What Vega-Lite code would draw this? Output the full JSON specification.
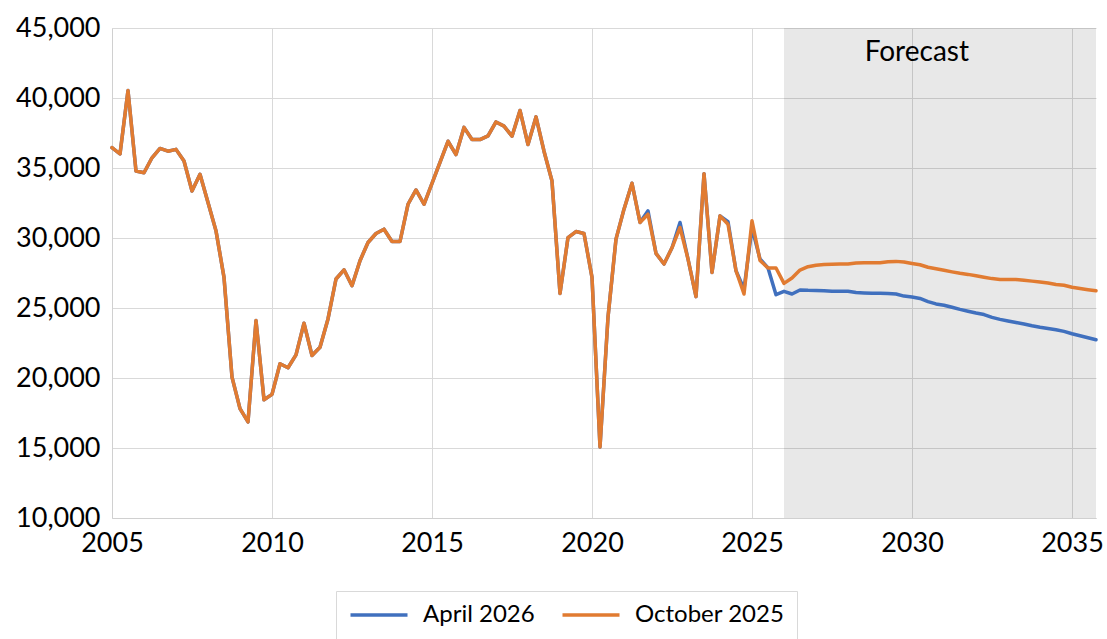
{
  "$schema": "https://vega.github.io/schema/vega-lite/v6.json",
  "width": 984,
  "height": 490,
  "autosize": "none",
  "padding": {"left": 112, "top": 28, "right": 11, "bottom": 121},
  "background": "#ffffff",
  "config": {
    "view": {"stroke": null},
    "font": "Lato",
    "axis": {
      "labelFont": "Lato",
      "labelFontSize": 27,
      "labelColor": "#000000",
      "gridColor": "#d9d9d9",
      "gridWidth": 1,
      "domainColor": "#d0d0d0",
      "domainWidth": 1,
      "tickSize": 0,
      "labelFlush": false,
      "title": null
    },
    "legend": {
      "labelFont": "Lato",
      "labelFontSize": 24,
      "labelColor": "#000000"
    }
  },
  "datasets": {
    "quarters": [
      {"t": 2005.0, "April 2026": 36450, "October 2025": 36450},
      {"t": 2005.25, "April 2026": 36000, "October 2025": 36000},
      {"t": 2005.5, "April 2026": 40530, "October 2025": 40530},
      {"t": 2005.75, "April 2026": 34780, "October 2025": 34780},
      {"t": 2006.0, "April 2026": 34660, "October 2025": 34660},
      {"t": 2006.25, "April 2026": 35730, "October 2025": 35730},
      {"t": 2006.5, "April 2026": 36400, "October 2025": 36400},
      {"t": 2006.75, "April 2026": 36200, "October 2025": 36200},
      {"t": 2007.0, "April 2026": 36330, "October 2025": 36330},
      {"t": 2007.25, "April 2026": 35500, "October 2025": 35500},
      {"t": 2007.5, "April 2026": 33360, "October 2025": 33360},
      {"t": 2007.75, "April 2026": 34550, "October 2025": 34550},
      {"t": 2008.0, "April 2026": 32530, "October 2025": 32530},
      {"t": 2008.25, "April 2026": 30510, "October 2025": 30510},
      {"t": 2008.5, "April 2026": 27190, "October 2025": 27190},
      {"t": 2008.75, "April 2026": 20060, "October 2025": 20060},
      {"t": 2009.0, "April 2026": 17810, "October 2025": 17810},
      {"t": 2009.25, "April 2026": 16860, "October 2025": 16860},
      {"t": 2009.5, "April 2026": 24100, "October 2025": 24100},
      {"t": 2009.75, "April 2026": 18450, "October 2025": 18450},
      {"t": 2010.0, "April 2026": 18830, "October 2025": 18830},
      {"t": 2010.25, "April 2026": 21020, "October 2025": 21020},
      {"t": 2010.5, "April 2026": 20730, "October 2025": 20730},
      {"t": 2010.75, "April 2026": 21650, "October 2025": 21650},
      {"t": 2011.0, "April 2026": 23910, "October 2025": 23910},
      {"t": 2011.25, "April 2026": 21610, "October 2025": 21610},
      {"t": 2011.5, "April 2026": 22200, "October 2025": 22200},
      {"t": 2011.75, "April 2026": 24220, "October 2025": 24220},
      {"t": 2012.0, "April 2026": 27070, "October 2025": 27070},
      {"t": 2012.25, "April 2026": 27730, "October 2025": 27730},
      {"t": 2012.5, "April 2026": 26590, "October 2025": 26590},
      {"t": 2012.75, "April 2026": 28380, "October 2025": 28380},
      {"t": 2013.0, "April 2026": 29680, "October 2025": 29680},
      {"t": 2013.25, "April 2026": 30320, "October 2025": 30320},
      {"t": 2013.5, "April 2026": 30630, "October 2025": 30630},
      {"t": 2013.75, "April 2026": 29750, "October 2025": 29750},
      {"t": 2014.0, "April 2026": 29750, "October 2025": 29750},
      {"t": 2014.25, "April 2026": 32410, "October 2025": 32410},
      {"t": 2014.5, "April 2026": 33430, "October 2025": 33430},
      {"t": 2014.75, "April 2026": 32410, "October 2025": 32410},
      {"t": 2015.0, "April 2026": 33900, "October 2025": 33900},
      {"t": 2015.25, "April 2026": 35400, "October 2025": 35400},
      {"t": 2015.5, "April 2026": 36910, "October 2025": 36910},
      {"t": 2015.75, "April 2026": 35960, "October 2025": 35960},
      {"t": 2016.0, "April 2026": 37900, "October 2025": 37900},
      {"t": 2016.25, "April 2026": 37030, "October 2025": 37030},
      {"t": 2016.5, "April 2026": 37030, "October 2025": 37030},
      {"t": 2016.75, "April 2026": 37300, "October 2025": 37300},
      {"t": 2017.0, "April 2026": 38290, "October 2025": 38290},
      {"t": 2017.25, "April 2026": 37990, "October 2025": 37990},
      {"t": 2017.5, "April 2026": 37270, "October 2025": 37270},
      {"t": 2017.75, "April 2026": 39110, "October 2025": 39110},
      {"t": 2018.0, "April 2026": 36680, "October 2025": 36680},
      {"t": 2018.25, "April 2026": 38650, "October 2025": 38650},
      {"t": 2018.5, "April 2026": 36200, "October 2025": 36200},
      {"t": 2018.75, "April 2026": 34070, "October 2025": 34070},
      {"t": 2019.0, "April 2026": 26040, "October 2025": 26040},
      {"t": 2019.25, "April 2026": 30030, "October 2025": 30030},
      {"t": 2019.5, "April 2026": 30460, "October 2025": 30460},
      {"t": 2019.75, "April 2026": 30320, "October 2025": 30320},
      {"t": 2020.0, "April 2026": 27190, "October 2025": 27190},
      {"t": 2020.25, "April 2026": 15080, "October 2025": 15080},
      {"t": 2020.5, "April 2026": 24340, "October 2025": 24340},
      {"t": 2020.75, "April 2026": 29920, "October 2025": 29920},
      {"t": 2021.0, "April 2026": 32060, "October 2025": 32060},
      {"t": 2021.25, "April 2026": 33910, "October 2025": 33910},
      {"t": 2021.5, "April 2026": 31110, "October 2025": 31110},
      {"t": 2021.75, "April 2026": 31940, "October 2025": 31700},
      {"t": 2022.0, "April 2026": 28900, "October 2025": 28900},
      {"t": 2022.25, "April 2026": 28140, "October 2025": 28140},
      {"t": 2022.5, "April 2026": 29300, "October 2025": 29300},
      {"t": 2022.75, "April 2026": 31110, "October 2025": 30750},
      {"t": 2023.0, "April 2026": 28500, "October 2025": 28500},
      {"t": 2023.25, "April 2026": 25810, "October 2025": 25810},
      {"t": 2023.5, "April 2026": 34590, "October 2025": 34590},
      {"t": 2023.75, "April 2026": 27540, "October 2025": 27540},
      {"t": 2024.0, "April 2026": 31580, "October 2025": 31580},
      {"t": 2024.25, "April 2026": 31170, "October 2025": 30980},
      {"t": 2024.5, "April 2026": 27660, "October 2025": 27660},
      {"t": 2024.75, "April 2026": 26360, "October 2025": 26000},
      {"t": 2025.0, "April 2026": 30700, "October 2025": 31230},
      {"t": 2025.25, "April 2026": 28500, "October 2025": 28400},
      {"t": 2025.5, "April 2026": 27860, "October 2025": 27860},
      {"t": 2025.75, "April 2026": 25950, "October 2025": 27860},
      {"t": 2026.0, "April 2026": 26190, "October 2025": 26760},
      {"t": 2026.25, "April 2026": 26000, "October 2025": 27140},
      {"t": 2026.5, "April 2026": 26290, "October 2025": 27710},
      {"t": 2026.75, "April 2026": 26260, "October 2025": 27950},
      {"t": 2027.0, "April 2026": 26250, "October 2025": 28060},
      {"t": 2027.25, "April 2026": 26230, "October 2025": 28100},
      {"t": 2027.5, "April 2026": 26200, "October 2025": 28130},
      {"t": 2027.75, "April 2026": 26200, "October 2025": 28150},
      {"t": 2028.0, "April 2026": 26190, "October 2025": 28150},
      {"t": 2028.25, "April 2026": 26100, "October 2025": 28220},
      {"t": 2028.5, "April 2026": 26080, "October 2025": 28230},
      {"t": 2028.75, "April 2026": 26060, "October 2025": 28230},
      {"t": 2029.0, "April 2026": 26050, "October 2025": 28230},
      {"t": 2029.25, "April 2026": 26040, "October 2025": 28300},
      {"t": 2029.5, "April 2026": 26000, "October 2025": 28330},
      {"t": 2029.75, "April 2026": 25850, "October 2025": 28280},
      {"t": 2030.0, "April 2026": 25780, "October 2025": 28180},
      {"t": 2030.25, "April 2026": 25680, "October 2025": 28090},
      {"t": 2030.5, "April 2026": 25460, "October 2025": 27910},
      {"t": 2030.75, "April 2026": 25290, "October 2025": 27800},
      {"t": 2031.0, "April 2026": 25200, "October 2025": 27690},
      {"t": 2031.25, "April 2026": 25050, "October 2025": 27580},
      {"t": 2031.5, "April 2026": 24900, "October 2025": 27480},
      {"t": 2031.75, "April 2026": 24770, "October 2025": 27400},
      {"t": 2032.0, "April 2026": 24640, "October 2025": 27300},
      {"t": 2032.25, "April 2026": 24530, "October 2025": 27200},
      {"t": 2032.5, "April 2026": 24330, "October 2025": 27100},
      {"t": 2032.75, "April 2026": 24190, "October 2025": 27040},
      {"t": 2033.0, "April 2026": 24070, "October 2025": 27040},
      {"t": 2033.25, "April 2026": 23960, "October 2025": 27040},
      {"t": 2033.5, "April 2026": 23860, "October 2025": 26980},
      {"t": 2033.75, "April 2026": 23730, "October 2025": 26920},
      {"t": 2034.0, "April 2026": 23620, "October 2025": 26850},
      {"t": 2034.25, "April 2026": 23530, "October 2025": 26780},
      {"t": 2034.5, "April 2026": 23450, "October 2025": 26680},
      {"t": 2034.75, "April 2026": 23330, "October 2025": 26620},
      {"t": 2035.0, "April 2026": 23160, "October 2025": 26480},
      {"t": 2035.25, "April 2026": 23020, "October 2025": 26390},
      {"t": 2035.5, "April 2026": 22880, "October 2025": 26310},
      {"t": 2035.75, "April 2026": 22730, "October 2025": 26230}
    ],
    "forecast": [{"start": 2026.0, "end": 2035.75, "label": "Forecast", "mid": 2030.15, "level": 43200}]
  },
  "layer": [
    {
      "data": {"name": "forecast"},
      "mark": {"type": "rect", "fill": "#000000", "opacity": 0.09},
      "encoding": {
        "x": {"field": "start", "type": "quantitative", "scale": {"domain": [2005, 2035.75], "nice": false, "zero": false},
              "axis": {"values": [2005, 2010, 2015, 2020, 2025, 2030, 2035], "format": "d", "labelPadding": 12, "grid": true}},
        "x2": {"field": "end"}
      }
    },
    {
      "data": {"name": "forecast"},
      "mark": {"type": "text", "font": "Lato", "fontSize": 28, "color": "#000000", "align": "center", "baseline": "middle"},
      "encoding": {
        "x": {"field": "mid", "type": "quantitative"},
        "y": {"field": "level", "type": "quantitative"},
        "text": {"field": "label"}
      }
    },
    {
      "data": {"name": "quarters"},
      "transform": [{"fold": ["April 2026", "October 2025"], "as": ["series", "value"]}],
      "mark": {"type": "line", "strokeWidth": 3.5, "strokeJoin": "round", "strokeCap": "round"},
      "encoding": {
        "x": {"field": "t", "type": "quantitative"},
        "y": {"field": "value", "type": "quantitative", "scale": {"domain": [10000, 45000], "nice": false, "zero": false},
              "axis": {"values": [10000, 15000, 20000, 25000, 30000, 35000, 40000, 45000], "format": ",d", "labelPadding": 12, "grid": true}},
        "color": {"field": "series", "type": "nominal",
                  "scale": {"domain": ["April 2026", "October 2025"], "range": ["#4070BE", "#E17B31"]},
                  "legend": {"title": null, "orient": "none", "legendX": 224, "legendY": 563, "direction": "horizontal",
                             "symbolType": "M-1,0H5", "symbolSize": 361, "symbolStrokeWidth": 3.5,
                             "strokeColor": "#d9d9d9", "padding": 12, "columnPadding": 20, "labelOffset": 51}},
        "order": {"field": "series"}
      }
    }
  ]
}
